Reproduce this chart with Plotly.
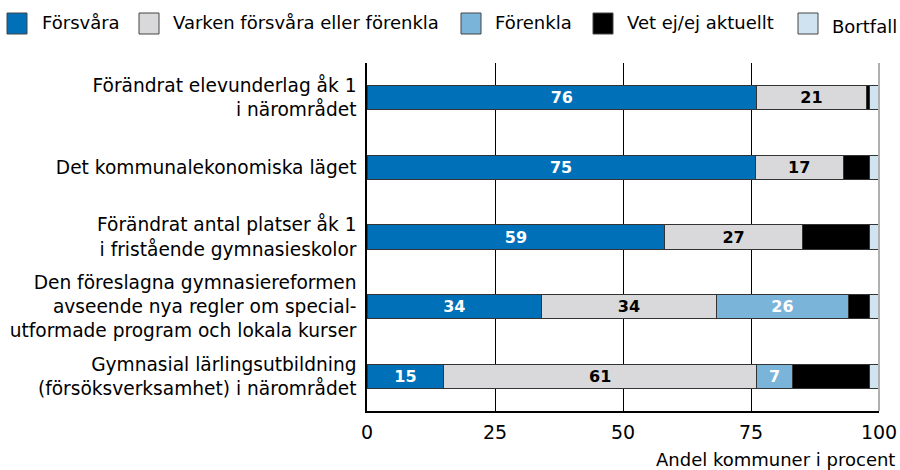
import plotly.graph_objects as go

categories = [
    "Förändrat elevunderlag åk 1<br>i närområdet",
    "Det kommunalekonomiska läget",
    "Förändrat antal platser åk 1<br>i fristående gymnasieskolor",
    "Den föreslagna gymnasiereformen<br>avseende nya regler om special-<br>utformade program och lokala kurser",
    "Gymnasial lärlingsutbildning<br>(försöksverksamhet) i närområdet",
]

series_names = ["Försvåra", "Varken försvåra eller förenkla", "Förenkla", "Vet ej/ej aktuellt", "Bortfall"]

forsvara = [76.1, 75.8, 58.2, 34.1, 15.0]
varken = [21.4, 17.2, 26.8, 34.1, 61.1]
forenkla = [0.0, 0.0, 0.0, 25.9, 7.0]
vet_ej = [0.7, 5.2, 13.1, 4.0, 15.0]
bortfall = [1.8, 1.8, 1.9, 1.9, 1.9]

forsvara_labels = ["76", "75", "59", "34", "15"]
varken_labels = ["21", "17", "27", "34", "61"]
forenkla_labels = ["", "", "", "26", "7"]
empty_labels = ["", "", "", "", ""]

x_ticks = [0, 25, 50, 75, 100]
x_title = "Andel kommuner i procent"

colors = ["#0070b8", "#d9d9db", "#7ab4d9", "#000000", "#cfe3f1"]
text_colors = ["white", "black", "white", "white", "black"]

FONT = "DejaVu Sans"

fig = go.Figure()
all_values = [forsvara, varken, forenkla, vet_ej, bortfall]
all_labels = [forsvara_labels, varken_labels, forenkla_labels, empty_labels, empty_labels]
for name, vals, labs, col, tcol in zip(series_names, all_values, all_labels, colors, text_colors):
    fig.add_trace(go.Bar(
        y=categories, x=vals, name=name, orientation="h",
        marker=dict(color=col, line=dict(color="#333333", width=1)),
        text=labs, textposition="inside", insidetextanchor="middle",
        textangle=0, constraintext="none",
        textfont=dict(family=FONT, size=16, color=tcol, weight="bold"),
        showlegend=False, hoverinfo="skip",
    ))

L, R, T, B = 367, 21, 63, 59
W, H = 900, 470
pw, ph = W - L - R, H - T - B

def px2x(px):
    return (px - L) / pw

def py2y(py):
    return (H - B - py) / ph

shapes = []
annotations = []
legend_pos = [(7, 40), (139, 171), (461, 493), (593, 625), (798, 830)]
legend_text_y = [23, 23, 23, 23, 26]
for (sx, tx), name, col, ty in zip(legend_pos, series_names, colors, legend_text_y):
    shapes.append(dict(type="rect", xref="paper", yref="paper",
                       x0=px2x(sx), x1=px2x(sx + 20), y0=py2y(34), y1=py2y(13),
                       fillcolor=col, line=dict(color="#444444", width=1)))
    annotations.append(dict(xref="paper", yref="paper", x=px2x(tx), y=py2y(ty),
                            xanchor="left", yanchor="middle", showarrow=False,
                            text=name, font=dict(family=FONT, size=18, color="black")))

# right border at 100
shapes.append(dict(type="line", xref="paper", yref="paper", x0=1, x1=1, y0=0, y1=1,
                   line=dict(color="#b0b0b0", width=2), layer="above"))

annotations.append(dict(xref="paper", yref="paper", x=px2x(897), y=py2y(459),
                        xanchor="right", yanchor="middle", showarrow=False,
                        text=x_title, font=dict(family=FONT, size=18, color="black")))

fig.update_layout(
    width=W, height=H,
    margin=dict(l=L, r=R, t=T, b=B, pad=0),
    barmode="stack", bargap=0.655,
    plot_bgcolor="white", paper_bgcolor="white",
    font=dict(family=FONT, size=18, color="black"),
    shapes=shapes, annotations=annotations,
    uniformtext=dict(mode=False),
)
fig.update_xaxes(range=[0, 100], tickvals=x_ticks, showgrid=True, gridcolor="black", gridwidth=1,
                 showline=True, linecolor="black", linewidth=1.5, zeroline=False,
                 ticks="", ticklabelstandoff=3, tickfont=dict(family=FONT, size=19, color="black"),
                 fixedrange=True, automargin=False)
fig.update_yaxes(autorange="reversed", showline=True, linecolor="black", linewidth=1.5,
                 ticks="", ticklabelstandoff=5, tickfont=dict(family=FONT, size=18.6, color="black"),
                 showgrid=False, fixedrange=True, automargin=False)

fig.write_html("out.html", config={"displayModeBar": False},
               post_script="document.body.style.margin='0';document.body.style.padding='0';")
